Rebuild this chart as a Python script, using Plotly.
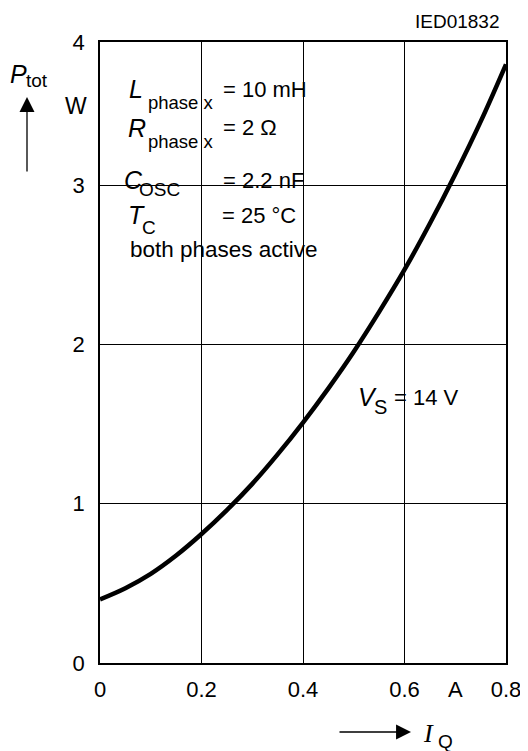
import plotly.graph_objects as go

# P_tot vs I_Q, curve for V_S = 14 V
i_q = [0, 0.05, 0.1, 0.15, 0.2, 0.25, 0.3, 0.35, 0.4, 0.45, 0.5, 0.55, 0.6, 0.65, 0.7, 0.75, 0.8]
p_tot = [0.40, 0.47, 0.56, 0.675, 0.81, 0.96, 1.125, 1.31, 1.51, 1.725, 1.955, 2.205, 2.47, 2.76, 3.07, 3.40, 3.76]

x_tick_vals = [0, 0.2, 0.4, 0.6, 0.7, 0.8]
x_tick_text = ["0", "0.2", "0.4", "0.6", "A", "0.8"]
y_tick_vals = [0, 1, 2, 3, 3.9]
y_tick_text = ["0", "1", "2", "3", "4"]
grid_x = [0.2, 0.4, 0.6]
grid_y = [1, 2, 3]

FONT = "Liberation Sans, Arial, sans-serif"
SERIF = "Liberation Serif, Times New Roman, serif"

# page geometry in pixels; the page body puts the figure 8 px in from the top left
OFF = 8
PAGE_W, PAGE_H = 528, 751
PLOT_X0, PLOT_X1, PLOT_Y0, PLOT_Y1 = 100, 506, 42, 663
W, H = PAGE_W - OFF, PAGE_H - OFF
L, T = PLOT_X0 - OFF, PLOT_Y0 - OFF
R, B = W - (PLOT_X1 - OFF), H - (PLOT_Y1 - OFF)
PW, PH = PLOT_X1 - PLOT_X0, PLOT_Y1 - PLOT_Y0


def px(x):
    return (x - PLOT_X0) / PW


def py(y):
    return (PLOT_Y1 - y) / PH


def txt(s, x, y, size=22, anchor="left", family=FONT):
    return dict(text=s, x=px(x), y=py(y), xref="paper", yref="paper",
                xanchor=anchor, yanchor="middle", showarrow=False,
                font=dict(size=size, family=family, color="black"))


fig = go.Figure()
fig.add_trace(go.Scatter(x=i_q, y=p_tot, mode="lines",
                         line=dict(color="black", width=4.5, shape="spline"),
                         hoverinfo="skip"))

annotations = [
    txt("IED01832", 502, 21, size=19, anchor="right"),
    # y axis title
    txt("<i>P</i>", 8, 74, size=25),
    txt("tot", 24, 81, size=19),
    txt("W", 63, 106, size=23),
    # conditions box
    txt("<i>L</i>", 127, 89, size=25),
    txt("phase x", 146, 102, size=18.5),
    txt("= 10 mH", 221, 89),
    txt("<i>R</i>", 126, 128, size=25),
    txt("phase x", 146, 141, size=18.5),
    txt("= 2 Ω", 221, 128),
    txt("<i>C</i>", 122, 180, size=25),
    txt("OSC", 137, 189, size=19),
    txt("= 2.2 nF", 221, 180),
    txt("<i>T</i>", 126, 215, size=25),
    txt("C", 140, 227, size=19),
    txt("= 25 °C", 220, 215),
    txt("both phases active", 128, 249, size=22.5),
    # curve label
    txt("<i>V</i>", 356, 397, size=25),
    txt("S", 372, 407, size=20),
    txt("= 14 V", 392, 397),
    # x axis title
    txt("<i>I</i>", 421, 733, size=26, family=SERIF),
    txt("Q", 436, 741, size=19),
    # arrows
    dict(x=px(27), y=py(97), xref="paper", yref="paper", ax=0, ay=76, text="",
         showarrow=True, arrowhead=2, arrowsize=2.3, arrowwidth=1.3, arrowcolor="black"),
    dict(x=px(411), y=py(732), xref="paper", yref="paper", ax=-73, ay=0, text="",
         showarrow=True, arrowhead=2, arrowsize=2.3, arrowwidth=1.3, arrowcolor="black"),
]

# gridlines are broken where the labels sit
shapes = [
    dict(type="rect", xref="paper", yref="paper", x0=px(122), x1=px(323), y0=py(299), y1=py(65),
         fillcolor="white", line=dict(width=0), layer="between"),
    dict(type="rect", xref="paper", yref="paper", x0=px(353), x1=px(460), y0=py(423), y1=py(380),
         fillcolor="white", line=dict(width=0), layer="between"),
]

fig.update_layout(
    width=W, height=H,
    margin=dict(l=L, r=R, t=T, b=B, autoexpand=False),
    paper_bgcolor="white", plot_bgcolor="white",
    showlegend=False,
    font=dict(family=FONT, size=22, color="black"),
    annotations=annotations,
    shapes=shapes,
)

fig.update_xaxes(
    range=[0, 0.8], tickvals=x_tick_vals, ticktext=x_tick_text, ticks="",
    ticklabelstandoff=6, ticklabeloverflow="allow", showgrid=False, zeroline=False,
    showline=True, mirror=True, linecolor="black", linewidth=1.6,
    minor=dict(tickvals=grid_x, showgrid=True, gridcolor="black", gridwidth=1, ticks=""),
)
fig.update_yaxes(
    range=[0, 3.9], tickvals=y_tick_vals, ticktext=y_tick_text, ticks="",
    ticklabelstandoff=9, showgrid=False, zeroline=False,
    showline=True, mirror=True, linecolor="black", linewidth=1.6,
    minor=dict(tickvals=grid_y, showgrid=True, gridcolor="black", gridwidth=1, ticks=""),
)

fig.write_html("out.html")
